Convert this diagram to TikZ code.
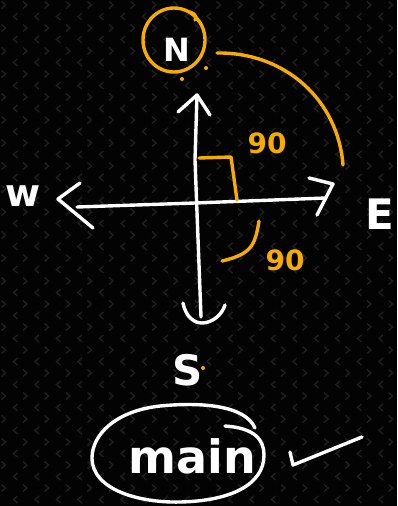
\documentclass[tikz,border=0pt]{standalone}
\usepackage{fontspec}
\setmainfont{DejaVu Sans}
\definecolor{bgc}{RGB}{3,3,3}
\definecolor{patc}{RGB}{30,30,30}
\definecolor{org}{RGB}{247,172,0}
\tikzset{
  wline/.style={draw=white,line width=3.4pt,line cap=round,line join=round},
  oline/.style={draw=org,line width=3.4pt,line cap=round,line join=round},
  wtext/.style={text=white,inner sep=0pt},
  otext/.style={text=org,inner sep=0pt},
}
\begin{document}
\begin{tikzpicture}[x=1pt,y=-1pt]
\fill[bgc] (0,0) rectangle (397,506);
\useasboundingbox (0,0) rectangle (397,506);
% background chevron pattern
\foreach \r in {0,...,22}{
  \foreach \c in {0,...,19}{
    \pgfmathsetmacro{\yy}{5+\r*23}
    \pgfmathsetmacro{\xa}{4+\c*21.5}
    \pgfmathsetmacro{\xb}{\xa+11}
    \draw[patc,line width=1.5pt] (\xa-2.5,\yy-3.5) -- (\xa+1.5,\yy) -- (\xa-2.5,\yy+3.5);
    \draw[patc,line width=1.5pt] (\xb+2.5,\yy+8) -- (\xb-1.5,\yy+11.5) -- (\xb+2.5,\yy+15);
  }
}
% labels
\node[wtext,font=\bfseries\fontsize{32}{36}\selectfont] (N) at (177,50) {N};
\node[wtext,font=\bfseries\fontsize{38}{42}\selectfont] (W) at (23,196) {w};
\node[wtext,font=\bfseries\fontsize{42}{46}\selectfont] (E) at (380,214) {E};
\node[wtext,font=\bfseries\fontsize{42}{46}\selectfont] (S) at (188,370) {S};
\node[otext,font=\bfseries\fontsize{28}{32}\selectfont] (a1) at (267,143) {90};
\node[otext,font=\bfseries\fontsize{28}{32}\selectfont] (a2) at (285,260) {90};
\node[wtext,font=\bfseries\fontsize{46}{52}\selectfont] (main) at (192,456) {main};
% circle round N
\draw[oline] (174,40) ellipse [x radius=31, y radius=32];
\draw[oline] (190,12) .. controls (196,14) and (197,18) .. (195,20);
% dots
\fill[org] (206,68) circle (2);
\fill[org] (182,79) circle (2);
\fill[org] (203,368) circle (2);
% angle arc from N to E
\coordinate (arcs) at (217,53);
\coordinate (arce) at (343,165);
\draw[oline] (arcs) .. controls (285,52) and (338,100) .. (arce);
% vertical axis
\coordinate (vt) at (197,95);
\coordinate (vb) at (201,317);
\draw[wline] (vt) -- (195,160) -- (vb);
\draw[wline] (178,112) -- (vt) -- (210,115);
\draw[wline] (183,303) .. controls (186,318) and (195,323) .. (202,323) .. controls (212,323) and (222,315) .. (225,305);
% horizontal axis
\coordinate (hl) at (77,207);
\coordinate (hr) at (326,198);
\draw[wline] (hl) -- (195,203) -- (hr);
\draw[wline] (80,183) -- (58,199) -- (93,228);
\draw[wline] (309,178) -- (333,184) -- (317,215);
% right angle mark
\draw[oline] (199,158) -- (231,157) -- (237,200);
% lower angle
\draw[oline] (259,221) .. controls (255,245) and (252,254) .. (222,261);
% ellipse around main
\draw[wline] (255,428) .. controls (245,405) and (200,402) .. (160,406)
  .. controls (115,411) and (92,435) .. (92,458)
  .. controls (92,490) and (140,503) .. (180,502)
  .. controls (230,501) and (264,485) .. (264,455)
  .. controls (264,440) and (255,428) .. (225,426);
% check mark
\coordinate (ck1) at (290,452);
\coordinate (ck3) at (362,437);
\draw[wline] (ck1) -- (293,465) -- (ck3);
\end{tikzpicture}
\end{document}
